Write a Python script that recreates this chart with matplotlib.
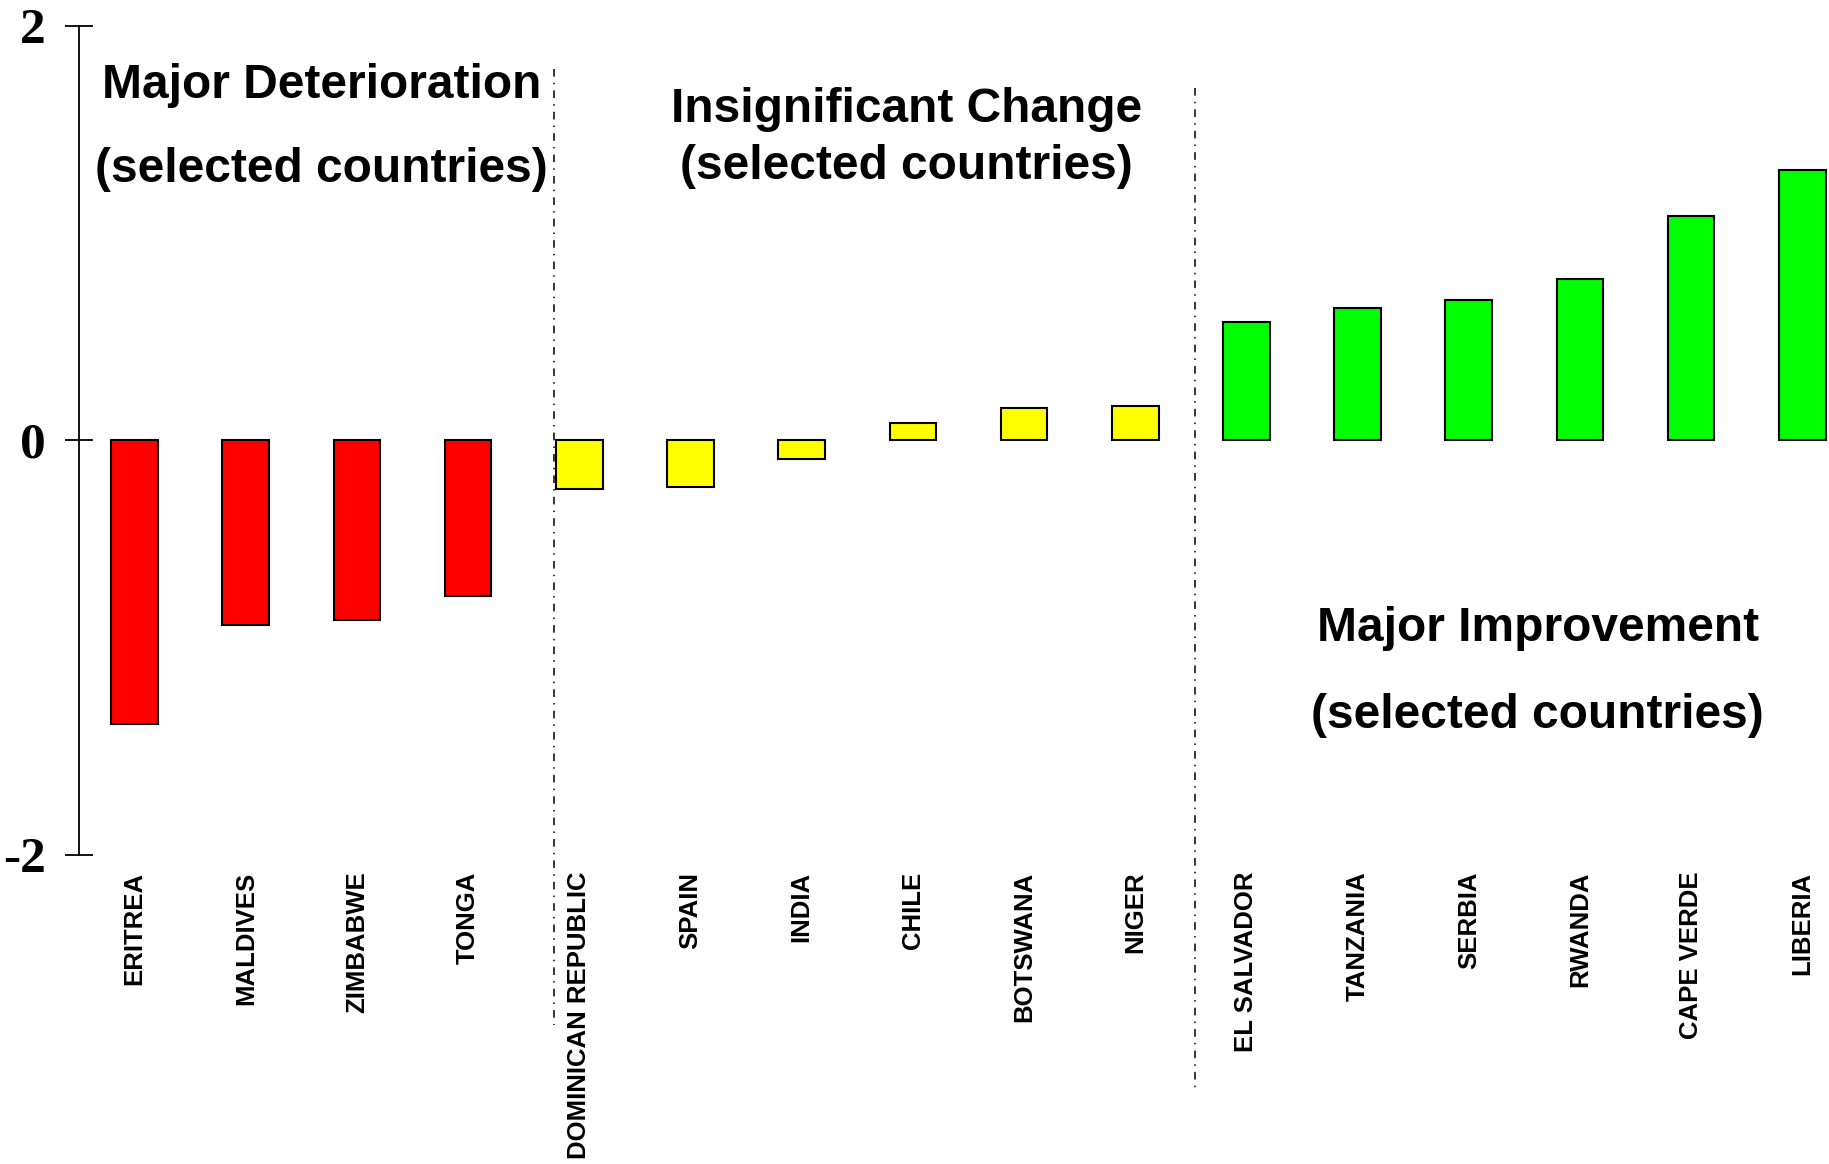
import matplotlib.pyplot as plt

countries = ['ERITREA', 'MALDIVES', 'ZIMBABWE', 'TONGA',
             'DOMINICAN REPUBLIC', 'SPAIN', 'INDIA', 'CHILE', 'BOTSWANA', 'NIGER',
             'EL SALVADOR', 'TANZANIA', 'SERBIA', 'RWANDA', 'CAPE VERDE', 'LIBERIA']
values = [-1.37, -0.89, -0.865, -0.75,
          -0.235, -0.225, -0.09, 0.085, 0.155, 0.165,
          0.57, 0.64, 0.68, 0.78, 1.085, 1.305]
groups = ['det'] * 4 + ['ins'] * 6 + ['imp'] * 6
group_colors = {'det': '#ff0000', 'ins': '#ffff00', 'imp': '#00ff00'}

fig = plt.figure(figsize=(18.29, 11.64), dpi=100)
ax = fig.add_axes([0.0432, 0.2655, 0.9568, 0.7122])

x = list(range(len(countries)))
ax.bar(x, values, width=0.42, color=[group_colors[g] for g in groups],
       edgecolor='black', linewidth=1.5, zorder=2)

ax.set_xlim(-0.5, 15.24)
ax.set_ylim(-2, 2)
ax.set_yticks([-2, 0, 2])
ax.set_yticklabels(['-2', '0', '2'], fontfamily='Liberation Serif',
                   fontweight='bold', fontsize=37)
ax.tick_params(axis='y', direction='inout', length=20, width=1.3, pad=14)
ax.set_xticks(x)
ax.set_xticklabels(countries, rotation=90, fontfamily='Liberation Sans',
                   fontweight='bold', fontsize=18.5)
ax.tick_params(axis='x', length=0, pad=12)
for s in ['top', 'right', 'bottom']:
    ax.spines[s].set_visible(False)
ax.spines['left'].set_linewidth(1.3)

# group dividers
ax.plot([3.776, 3.776], [1.79, -2.82], color='black', lw=1.1,
        ls=(0, (5, 4, 1, 4)), clip_on=False)
ax.plot([9.535, 9.535], [1.70, -3.14], color='black', lw=1.1,
        ls=(0, (5, 4, 1, 4)), clip_on=False)

tkw = dict(fontfamily='Liberation Sans', fontweight='bold', fontsize=34.5,
           ha='center', va='center')
ax.text(1.68, 1.715, 'Major Deterioration', **tkw)
ax.text(1.68, 1.305, '(selected countries)', **tkw)
ax.text(6.94, 1.595, 'Insignificant Change', **tkw)
ax.text(6.94, 1.32, '(selected countries)', **tkw)
ax.text(12.62, -0.905, 'Major Improvement', **tkw)
ax.text(12.62, -1.325, '(selected countries)', **tkw)

fig.savefig('out.png', dpi=100)
